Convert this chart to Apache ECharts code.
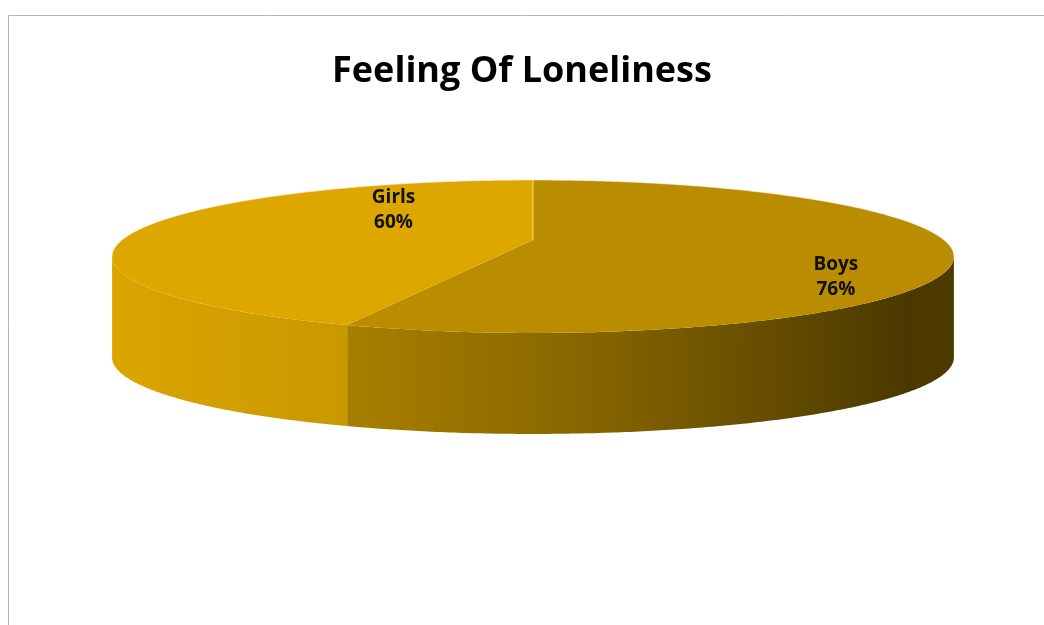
<!DOCTYPE html>
<html><head><meta charset="utf-8">
<script src="https://cdn.jsdelivr.net/npm/echarts@6/dist/echarts.min.js"></script>
<style>html,body{margin:0;padding:0;background:#fff}#c{width:1044px;height:625px}</style>
</head><body><div id="c"></div>
<script>
// ---- data ----
const titleText = 'Feeling Of Loneliness';
const categories = ['Boys', 'Girls'];
const values = [76, 60];

// ---- styles / layout (kept apart from data) ----
const topColors = ['#BA8C00', '#DDA700'];
const shadeStops = [[0, 0.99], [0.28, 0.91], [0.6, 0.70], [0.95, 0.40], [1, 0.42]];
const L = { cx: 533, cy: 240, A: 411, a: 72.9, p: 0.2157, depth: 101 };
const labelAnchor = [{ r: 0.728, dy: 27 }, { r: 0.35, dy: -25 }];

function hexToRgb(h) { h = h.replace('#', ''); return [0, 2, 4].map(i => parseInt(h.substr(i, 2), 16)); }
function scale(hex, f) { const c = hexToRgb(hex).map(v => Math.max(0, Math.min(255, Math.round(v * f)))); return 'rgb(' + c.join(',') + ')'; }

function proj(deg, r) {
  const t = deg * Math.PI / 180;
  const k = 1 / (1 + L.p * r * Math.cos(t));
  return [L.cx + L.A * r * Math.sin(t) * k, L.cy - L.a * r * Math.cos(t) * k];
}

const thR = Math.acos(-L.p) * 180 / Math.PI;   // right silhouette
const thL = 360 - thR;                          // left silhouette
const xMin = proj(thL, 1)[0], xMax = proj(thR, 1)[0];

function arc(a1, a2, dy) {
  const n = Math.max(2, Math.ceil(Math.abs(a2 - a1) / 0.5));
  const pts = [];
  for (let k = 0; k <= n; k++) { const p = proj(a1 + (a2 - a1) * k / n, 1); pts.push([p[0], p[1] + dy]); }
  return pts;
}

function renderItem(params, api) {
  const i = params.dataIndex;
  const total = values.reduce((s, v) => s + v, 0);
  let start = 0;
  for (let j = 0; j < i; j++) start += values[j];
  const a1 = start / total * 360, a2 = (start + api.value(0)) / total * 360;
  const children = [];
  // side wall (visible front part)
  const s = Math.max(a1, thR), e = Math.min(a2, thL);
  if (s < e) {
    const pts = arc(s, e, 0).concat(arc(e, s, L.depth));
    children.push({
      type: 'polygon', z2: 1, shape: { points: pts },
      style: {
        fill: {
          type: 'linear', global: true, x: xMin, y: 0, x2: xMax, y2: 0,
          colorStops: shadeStops.map(st => ({ offset: st[0], color: scale(topColors[i], st[1]) }))
        },
        stroke: null
      }
    });
  }
  // top face
  const topPts = [[L.cx, L.cy]].concat(arc(a1, a2, 0));
  children.push({ type: 'polygon', z2: 2, shape: { points: topPts }, style: { fill: topColors[i], stroke: null } });
  // light rim on the back edge only
  const backRanges = [[0, thR], [thL, 360]];
  backRanges.forEach(rg => {
    const b1 = Math.max(a1, rg[0]), b2 = Math.min(a2, rg[1]);
    if (b1 < b2) {
      children.push({ type: 'polyline', z2: 3, shape: { points: arc(b1, b2, 0) },
        style: { fill: null, stroke: 'rgba(255,240,200,0.55)', lineWidth: 1 } });
    }
  });
  if (a1 === 0) {
    const p0 = proj(0, 1);
    children.push({ type: 'line', z2: 3, shape: { x1: L.cx, y1: L.cy, x2: p0[0], y2: p0[1] },
      style: { stroke: 'rgba(255,225,140,0.8)', lineWidth: 1.2 } });
  }
  // label
  const mid = (a1 + a2) / 2;
  const lp = proj(mid, labelAnchor[i].r);
  children.push({
    type: 'text', z2: 4, x: lp[0], y: lp[1] + labelAnchor[i].dy,
    style: {
      text: categories[i] + '\n' + api.value(0) + '%',
      fontFamily: '"Open Sans", sans-serif', fontWeight: 'bold', fontSize: 19, lineHeight: 25,
      fill: '#111', align: 'center', verticalAlign: 'middle'
    }
  });
  return { type: 'group', children: children };
}

const chart = echarts.init(document.getElementById('c'));
chart.setOption({
  animation: false,
  backgroundColor: '#fff',
  title: {
    text: titleText, left: 'center', top: 49,
    textStyle: { fontFamily: '"Open Sans", sans-serif', fontWeight: 'bold', fontSize: 36, color: '#000' }
  },
  graphic: [{
    type: 'polyline', silent: true,
    shape: { points: [[8.5, 625], [8.5, 15.5], [1044, 15.5]] },
    style: { fill: null, stroke: '#b4b4b4', lineWidth: 1 }
  }],
  series: [{
    type: 'custom', coordinateSystem: 'none', renderItem: renderItem,
    data: values.map((v, i) => ({ name: categories[i], value: v }))
  }]
});
</script></body></html>
